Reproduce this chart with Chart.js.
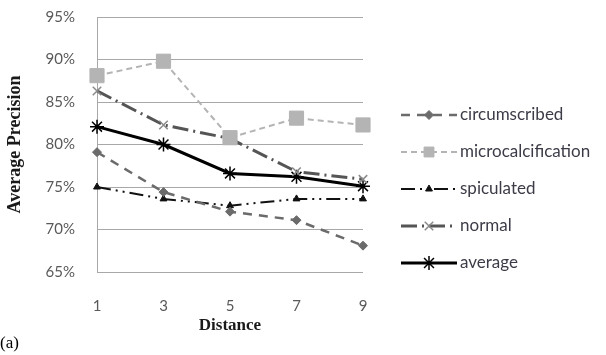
<!DOCTYPE html>
<html>
<head>
<meta charset="utf-8">
<script src="https://cdn.jsdelivr.net/npm/chart.js@4/dist/chart.umd.min.js"></script>
<style>
html, body { margin: 0; padding: 0; background: #fff; }
#wrap { width: 606px; height: 355px; position: relative; }
</style>
</head>
<body>
<div id="wrap"><canvas id="c" width="606" height="355"></canvas></div>
<script>
// distances on the x axis
var distances = ["1", "3", "5", "7", "9"]

// average precision (%) per class
var circumscribed = [79.1, 74.4, 72.1, 71.1, 68.1]
var microcalcification = [88.1, 89.8, 80.8, 83.1, 82.3]
var spiculated = [75.0, 73.6, 72.8, 73.6, 73.6]
var normal = [86.3, 82.3, 80.7, 76.8, 75.9]
var average = [82.1, 80.0, 76.6, 76.2, 75.1]

var yTicks = [65, 70, 75, 80, 85, 90, 95]

var TICK_FONT = { family: "Lato, 'Open Sans', sans-serif", size: 15 }
var TICK_COLOR = "#595959"

function Series(label, data, color, width, dash, style, radius, ptColor){
    return {
        label: label,
        data: data,
        borderColor: color,
        backgroundColor: ptColor || color,
        borderWidth: width,
        borderDash: dash,
        pointStyle: style,
        pointRadius: radius,
        pointHoverRadius: radius,
        pointBorderColor: ptColor || color,
        pointBackgroundColor: ptColor || color,
        pointBorderWidth: style == "star" || style == "crossRot" ? 1.5 : 1,
        tension: 0,
        fill: false,
        clip: false
    }
}

var datasets = [
    Series("circumscribed", circumscribed, "#6b6b6b", 2.5, [9, 7], "rectRot", 4.5),
    Series("microcalcification", microcalcification, "#b4b4b4", 2, [6, 4], "rect", 10),
    Series("spiculated", spiculated, "#111111", 2, [14, 5, 2, 5, 2, 5], "triangle", 4),
    Series("normal", normal, "#555555", 3, [16, 5, 2, 5], "crossRot", 6, "#8a8a8a"),
    Series("average", average, "#000000", 3, [], "star", 7)
]

// custom legend: line + marker, like the office chart legend
var legendPlugin = {
    id: "sideLegend",
    afterDraw: function(chart){
        var ctx = chart.ctx
        var x0 = 401, x1 = 457, y = 115, step = 37
        chart.data.datasets.forEach(function(ds, i){
            var yy = y + i * step
            ctx.save()
            ctx.strokeStyle = ds.borderColor
            ctx.lineWidth = ds.borderWidth
            ctx.setLineDash(ds.borderDash)
            ctx.beginPath()
            ctx.moveTo(x0, yy)
            ctx.lineTo(x1, yy)
            ctx.stroke()
            ctx.setLineDash([])
            ctx.fillStyle = ds.pointBackgroundColor
            ctx.strokeStyle = ds.pointBorderColor
            ctx.lineWidth = ds.pointBorderWidth
            Chart.helpers.drawPoint(ctx, {
                pointStyle: ds.pointStyle,
                radius: ds.pointStyle == "rect" ? 7 : ds.pointRadius,
                rotation: 0,
                borderWidth: ds.pointBorderWidth
            }, (x0 + x1) / 2, yy)
            ctx.fillStyle = "#3c3c48"
            ctx.font = "17px Lato, 'Open Sans', sans-serif"
            ctx.textBaseline = "middle"
            ctx.textAlign = "left"
            ctx.fillText(ds.label, x1 + 3, yy)
            ctx.restore()
        })
        ctx.save()
        ctx.fillStyle = "#000"
        ctx.font = "17px 'Liberation Serif', 'DejaVu Serif', serif"
        ctx.textBaseline = "middle"
        ctx.fillText("(a)", 0, 344)
        ctx.restore()
    }
}

var chart = new Chart(document.getElementById("c").getContext("2d"), {
    type: "line",
    data: { labels: distances, datasets: datasets },
    options: {
        responsive: false,
        animation: false,
        events: [],
        layout: { padding: { top: 17, right: 243, left: 0, bottom: 0 } },
        plugins: {
            legend: { display: false },
            tooltip: { enabled: false }
        },
        scales: {
            x: {
                offset: false,
                grid: { display: false, drawTicks: false },
                border: { display: false },
                ticks: { color: TICK_COLOR, font: TICK_FONT, padding: 25, maxRotation: 0 },
                title: {
                    display: true,
                    text: "Distance",
                    color: "#1a1a1a",
                    font: { family: "'Liberation Serif', serif", size: 17, weight: "bold" },
                    padding: { top: 0, bottom: 19 }
                },
                afterFit: function(s){
                    s.height = 83
                    s.paddingLeft = 0
                    s.paddingRight = 0
                }
            },
            y: {
                min: 65,
                max: 95,
                afterBuildTicks: function(s){
                    s.ticks = yTicks.map(function(v){ return { value: v } })
                },
                grid: { color: "#a8a8a8", lineWidth: 1, drawTicks: false },
                border: { display: true, color: "#a8a8a8", width: 1 },
                ticks: {
                    color: TICK_COLOR,
                    font: TICK_FONT,
                    padding: 22,
                    callback: function(v){ return v + "%" }
                },
                title: {
                    display: true,
                    text: "Average Precision",
                    color: "#1a1a1a",
                    font: { family: "'Liberation Serif', serif", size: 18, weight: "bold" },
                    padding: { top: 5, bottom: 0 }
                },
                afterFit: function(s){
                    s.width = 97
                    s.paddingTop = 0
                    s.paddingBottom = 0
                }
            }
        }
    },
    plugins: [legendPlugin]
})
</script>
</body>
</html>
